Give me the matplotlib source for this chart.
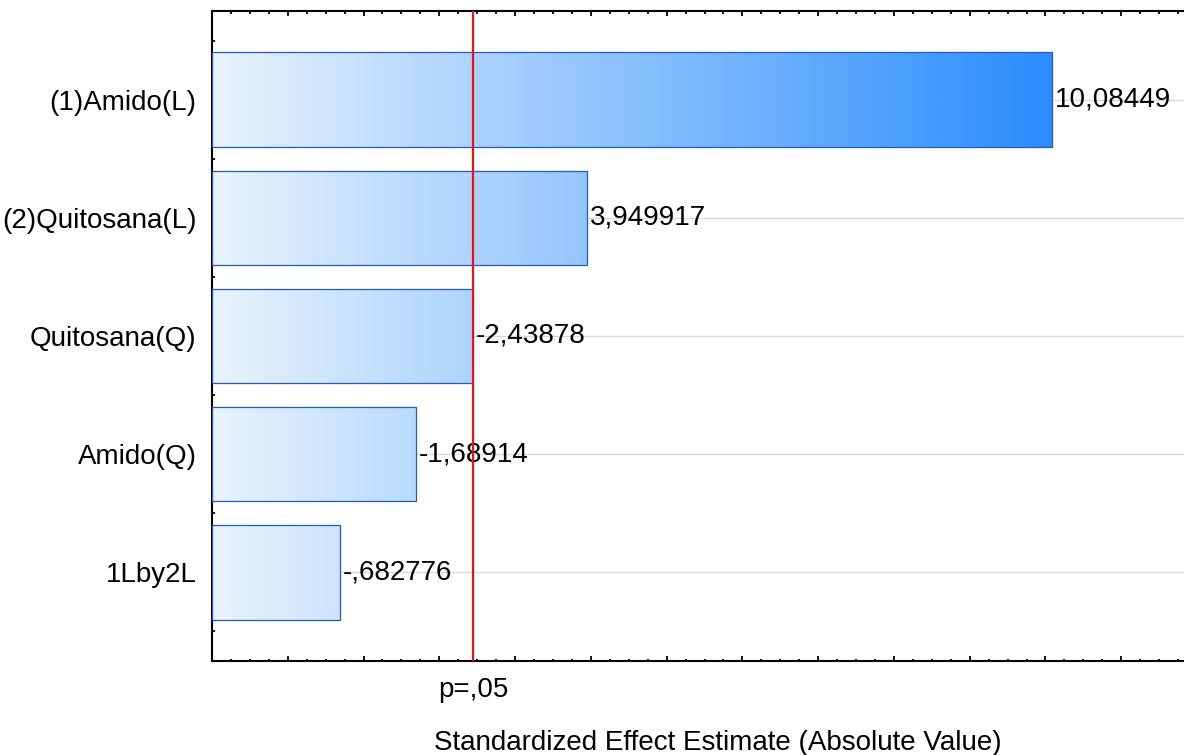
import numpy as np
import matplotlib
matplotlib.use("Agg")
import matplotlib.pyplot as plt
from matplotlib.colors import LinearSegmentedColormap
from matplotlib.patches import Rectangle
from matplotlib.ticker import MultipleLocator
import matplotlib.transforms as mtransforms

# Pareto chart of standardized effects
factors = ["(1)Amido(L)", "(2)Quitosana(L)", "Quitosana(Q)", "Amido(Q)", "1Lby2L"]
effects = [10.08449, 3.949917, -2.43878, -1.68914, -0.682776]
p_crit = 2.446912          # t(0.975, df=6)
p_label = "p=,05"
x_label = "Standardized Effect Estimate (Absolute Value)"

XMIN, XMAX = -1.0, 12.0
BAR_H = 0.8
FS = 20


def stat_fmt(v, width=8):
    """Fixed-width number with decimal comma and no leading zero."""
    sign = "-" if v < 0 else ""
    a = abs(v)
    ipart = str(int(a)) if a >= 1 else ""
    dec = width - len(sign) - len(ipart) - 1
    s = f"{a:.{dec}f}"
    if a < 1:
        s = s[1:]
    return sign + s.replace(".", ",")


plt.rcParams["font.family"] = ["Liberation Sans", "DejaVu Sans"]
plt.rcParams["font.size"] = FS

fig = plt.figure(figsize=(11.84, 7.55), dpi=100)
# right edge of the axes runs past the figure border
ax = fig.add_axes([212 / 1184, 94 / 755, (1197 - 212) / 1184, 650 / 755])

cmap = LinearSegmentedColormap.from_list("bar_grad", ["#e8f3fe", "#2a8dfc"])
grad = np.linspace(0, 1, 256).reshape(1, -1)
xgrad_end = max(abs(e) for e in effects)

for i, e in enumerate(effects):
    ax.axhline(i, color="#d9d9d9", lw=1.0, zorder=0)
    w = abs(e) - XMIN
    rect = Rectangle((XMIN, i - BAR_H / 2), w, BAR_H, facecolor="none",
                     edgecolor="#1f5bcc", lw=0.9, zorder=3)
    ax.add_patch(rect)
    im = ax.imshow(grad, cmap=cmap, aspect="auto", interpolation="bilinear",
                   extent=(XMIN, xgrad_end, i + BAR_H / 2, i - BAR_H / 2), zorder=2)
    im.set_clip_path(rect)
    ax.text(abs(e) + 0.04, i, stat_fmt(e), ha="left", va="center", fontsize=FS, zorder=4)

ax.axvline(p_crit, color="#ee1111", lw=1.6, zorder=5)

ax.set_xlim(XMIN, XMAX)
ax.set_ylim(len(factors) - 0.25, -0.75)

ax.xaxis.set_major_locator(MultipleLocator(1))
ax.xaxis.set_minor_locator(MultipleLocator(0.25))
ax.set_xticklabels([])
ax.set_yticks(range(len(factors)))
ax.set_yticklabels(factors)
ax.yaxis.set_minor_locator(MultipleLocator(0.25))

ax.tick_params(which="both", direction="in", top=True, right=False, width=1.3, color="black")
ax.tick_params(which="major", length=3.5)
ax.tick_params(which="minor", length=1.8)
ax.tick_params(axis="y", which="major", pad=11)

for side in ["left", "bottom", "top", "right"]:
    ax.spines[side].set_linewidth(1.5)

trans = mtransforms.blended_transform_factory(ax.transData, ax.transAxes)
ax.text(p_crit, 1 - 690 / 650 + 11 / 650 + 0.0, p_label, transform=trans,
        ha="center", va="center", fontsize=FS)
fig.text(718 / 1184, 1 - 743 / 755, x_label, ha="center", va="center", fontsize=FS)

fig.savefig("out.png", dpi=100)
